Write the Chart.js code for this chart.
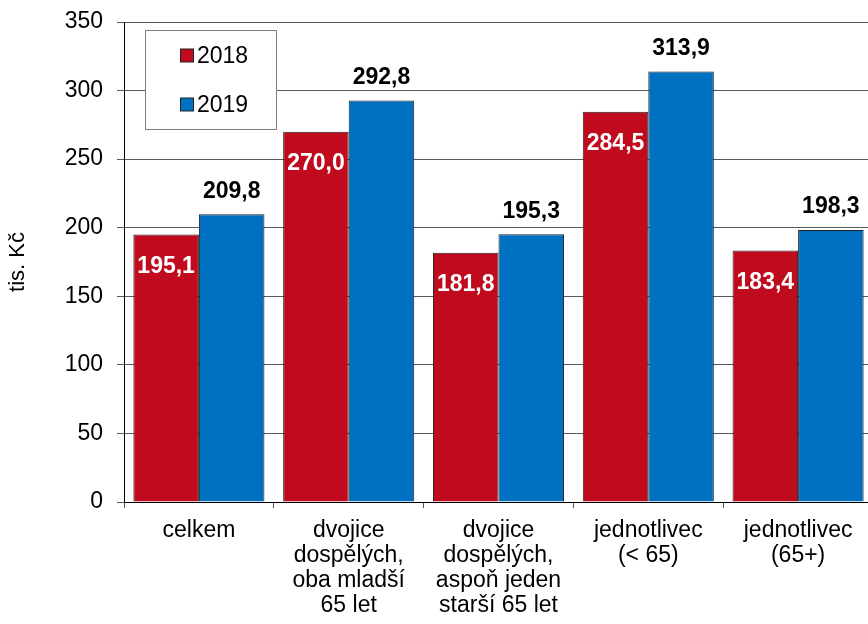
<!DOCTYPE html>
<html>
<head>
<meta charset="utf-8">
<script src="https://cdn.jsdelivr.net/npm/chart.js@4.4.1/dist/chart.umd.min.js"></script>
<style>
  html, body { margin: 0; padding: 0; background: #fff; overflow: hidden; }
  #wrap { width: 873px; height: 624px; }
</style>
</head>
<body>
<div id="wrap"><canvas id="prijmyChart" width="873" height="624"></canvas></div>
<script>
// === Data ===
const categories = [
  ["celkem"],
  ["dvojice", "dospělých,", "oba mladší", "65 let"],
  ["dvojice", "dospělých,", "aspoň jeden", "starší 65 let"],
  ["jednotlivec", "(< 65)"],
  ["jednotlivec", "(65+)"]
];
const years = ["2018", "2019"];
const values2018 = [195.1, 270.0, 181.8, 284.5, 183.4];
const values2019 = [209.8, 292.8, 195.3, 313.9, 198.3];
const yTicks = [0, 50, 100, 150, 200, 250, 300, 350];

const RED = "#C00A1E";
const BLUE = "#0070C0";
const FONT = "'Liberation Sans', Arial, Helvetica, sans-serif";

Chart.defaults.font.family = FONT;
Chart.defaults.color = "#000";

const fmt = v => v.toFixed(1).replace(".", ",");

// popisky hodnot (2018 bily uvnitr, 2019 cerny nad sloupcem)
const valueLabels = {
  id: "valueLabels",
  afterDatasetsDraw(chart) {
    const c = chart.ctx;
    c.save();
    c.font = "bold 23px " + FONT;
    c.textAlign = "center";
    c.textBaseline = "middle";
    chart.data.datasets.forEach((ds, i) => {
      chart.getDatasetMeta(i).data.forEach((bar, j) => {
        if (i === 0) {
          c.fillStyle = "#fff";
          c.fillText(fmt(ds.data[j]), bar.x, bar.y + 32);
        } else {
          c.fillStyle = "#000";
          c.fillText(fmt(ds.data[j]), bar.x, bar.y - 23);
        }
      });
    });
    c.restore();
  }
};

// legenda v ramecku uvnitr grafu
const boxLegend = {
  id: "boxLegend",
  beforeDatasetsDraw(chart) {
    const c = chart.ctx;
    const a = chart.chartArea;
    const bx = a.left + 21.5, by = a.top + 8.5;
    c.save();
    c.fillStyle = "#fff";
    c.fillRect(bx, by, 131, 99);
    c.strokeStyle = "#808080";
    c.lineWidth = 1;
    c.strokeRect(bx, by, 131, 99);
    c.font = "23px " + FONT;
    c.textBaseline = "middle";
    c.textAlign = "left";
    chart.data.datasets.forEach((ds, i) => {
      const cy = a.top + 33.5 + i * 49;
      c.fillStyle = ds.backgroundColor;
      c.fillRect(a.left + 56.5, cy - 6.5, 13, 13);
      c.strokeStyle = "#222";
      c.strokeRect(a.left + 56.5, cy - 6.5, 13, 13);
      c.fillStyle = "#000";
      c.fillText(ds.label, a.left + 73, cy + 1);
    });
    c.restore();
  }
};

const ctx = document.getElementById("prijmyChart");
new Chart(ctx, {
  type: "bar",
  data: {
    labels: categories,
    datasets: [
      {
        label: years[0],
        data: values2018,
        backgroundColor: RED,
        borderColor: "#222",
        borderWidth: 1,
        borderSkipped: "bottom"
      },
      {
        label: years[1],
        data: values2019,
        backgroundColor: BLUE,
        borderColor: "#222",
        borderWidth: 1,
        borderSkipped: "bottom"
      }
    ]
  },
  options: {
    responsive: false,
    animation: false,
    devicePixelRatio: 1,
    layout: { padding: { top: 22, right: 0, left: 0, bottom: 0 } },
    datasets: {
      bar: { categoryPercentage: 0.875, barPercentage: 1 }
    },
    plugins: {
      legend: { display: false },
      tooltip: { enabled: false }
    },
    scales: {
      x: {
        grid: {
          drawOnChartArea: false,
          drawTicks: true,
          tickLength: 6,
          color: "#555"
        },
        border: { color: "#000", width: 1 },
        ticks: {
          padding: 10,
          maxRotation: 0,
          autoSkip: false,
          color: "#000",
          font: { size: 23, lineHeight: 1.09 }
        },
        afterFit(scale) {
          scale.height = 122;
          scale.paddingLeft = 0;
          scale.paddingRight = 0;
        }
      },
      y: {
        min: 0,
        max: 350,
        afterBuildTicks(scale) { scale.ticks = yTicks.map(v => ({ value: v })); },
        grid: { color: "#595959", tickLength: 7 },
        border: { color: "#000", width: 1 },
        ticks: {
          padding: 14,
          color: "#000",
          font: { size: 23 }
        },
        title: {
          display: true,
          text: "tis. Kč",
          color: "#000",
          font: { size: 22 },
          padding: { top: 5, bottom: 0 }
        },
        afterFit(scale) {
          scale.width = 124;
          scale.paddingTop = 0;
          scale.paddingBottom = 0;
        }
      }
    }
  },
  plugins: [boxLegend, valueLabels]
});
</script>
</body>
</html>
